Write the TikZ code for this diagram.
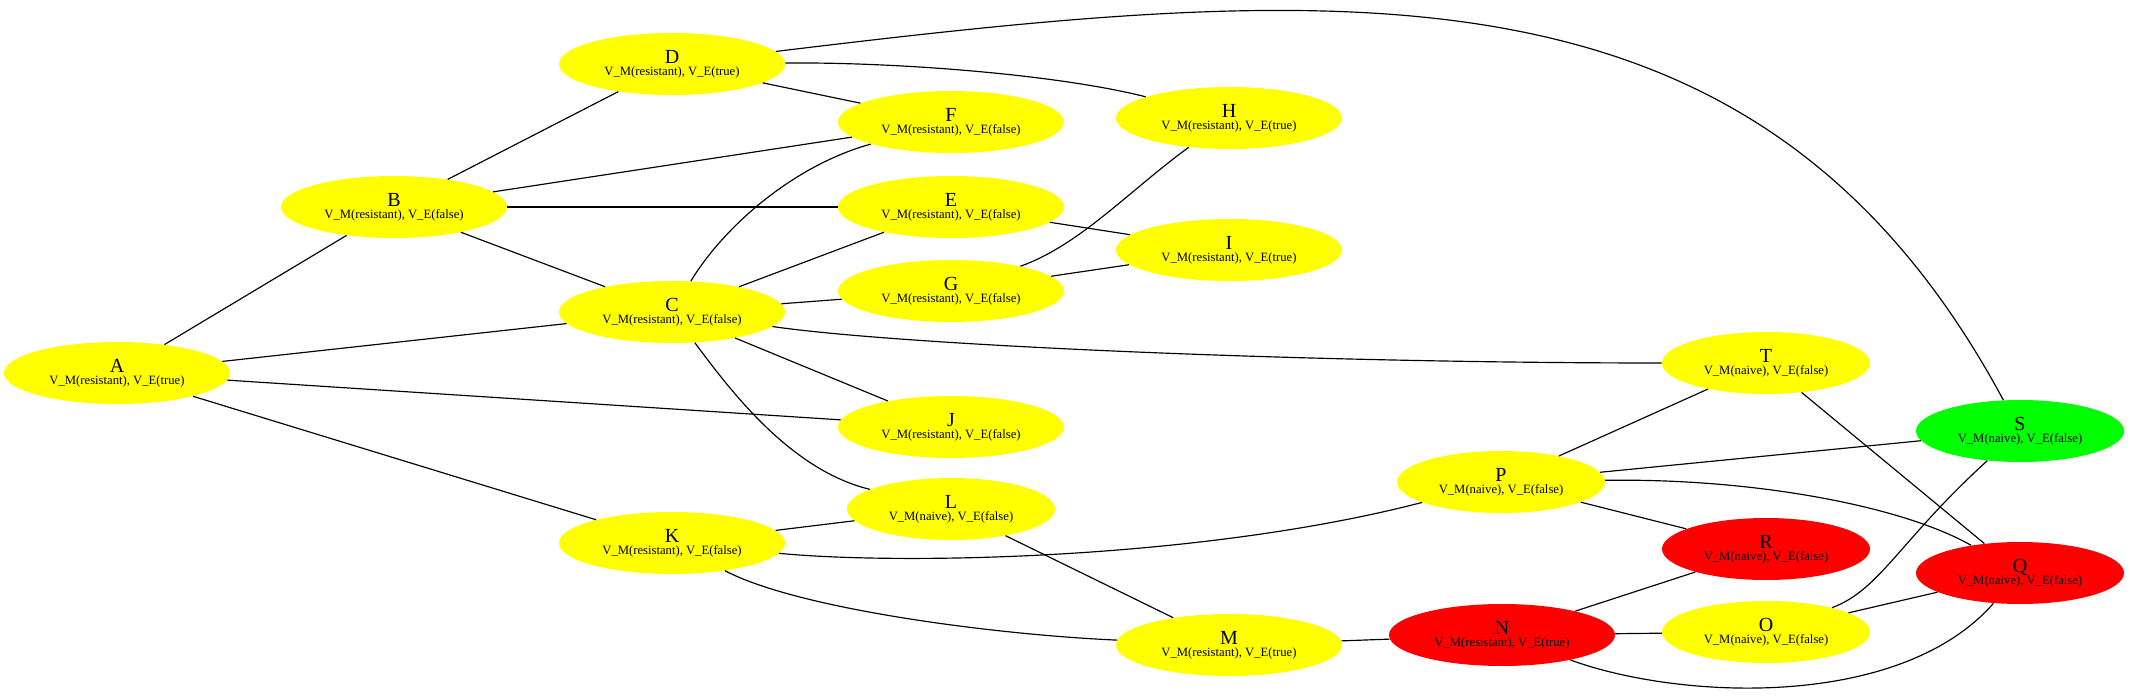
\documentclass[tikz,border=0pt]{standalone}
\usepackage{fontspec}
\setmainfont{Liberation Serif}
\usepackage{tikz}
\usetikzlibrary{shapes.geometric}
\definecolor{hostyellow}{RGB}{255,255,0}
\definecolor{hostred}{RGB}{255,0,0}
\definecolor{hostgreen}{RGB}{0,255,0}
\newcommand{\hostlabel}[3]{{\fontsize{12}{12}\selectfont #1}\\[-1.6pt]V\_M(#2), V\_E(#3)}
\tikzset{
  hostnode/.style={ellipse, fill=#1, draw=none, minimum width=135.6pt,
                   minimum height=37.2pt, inner sep=0pt, align=center,
                   font=\fontsize{7.6}{9}\selectfont},
  naivenode/.style={hostnode=#1, minimum width=124.8pt},
  link/.style={line width=0.7pt, black},
}

\begin{document}
\begin{tikzpicture}[x=0.6pt, y=-0.6pt]
  \useasboundingbox (0,0) rectangle (2130,697);

  % left part
  \node[hostnode=hostyellow] (A) at (117,373) {\hostlabel{A}{resistant}{true}};
  \node[hostnode=hostyellow] (B) at (394,207) {\hostlabel{B}{resistant}{false}};
  \node[hostnode=hostyellow] (C) at (672,312) {\hostlabel{C}{resistant}{false}};
  \node[hostnode=hostyellow] (D) at (672,64)  {\hostlabel{D}{resistant}{true}};
  \node[hostnode=hostyellow] (K) at (672,543) {\hostlabel{K}{resistant}{false}};
  \node[hostnode=hostyellow] (F) at (951,122) {\hostlabel{F}{resistant}{false}};
  \node[hostnode=hostyellow] (E) at (951,207) {\hostlabel{E}{resistant}{false}};
  \node[hostnode=hostyellow] (G) at (951,291) {\hostlabel{G}{resistant}{false}};
  \node[hostnode=hostyellow] (J) at (951,427) {\hostlabel{J}{resistant}{false}};
  \node[naivenode=hostyellow] (L) at (951,509) {\hostlabel{L}{naive}{false}};
  \node[hostnode=hostyellow] (H) at (1229,118) {\hostlabel{H}{resistant}{true}};
  \node[hostnode=hostyellow] (I) at (1229,250) {\hostlabel{I}{resistant}{true}};
  \node[hostnode=hostyellow] (M) at (1229,645) {\hostlabel{M}{resistant}{true}};

  % right part
  \node[hostnode=hostred]     (N) at (1502,635) {\hostlabel{N}{resistant}{true}};
  \node[naivenode=hostyellow] (P) at (1501,482) {\hostlabel{P}{naive}{false}};
  \node[naivenode=hostyellow] (T) at (1766,363) {\hostlabel{T}{naive}{false}};
  \node[naivenode=hostred]    (R) at (1766,549) {\hostlabel{R}{naive}{false}};
  \node[naivenode=hostyellow] (O) at (1766,632) {\hostlabel{O}{naive}{false}};
  \node[naivenode=hostgreen]  (S) at (2020,431) {\hostlabel{S}{naive}{false}};
  \node[naivenode=hostred]    (Q) at (2020,573) {\hostlabel{Q}{naive}{false}};

  % edges
  \draw[link] (A) -- (B);
  \draw[link] (A) -- (C);
  \draw[link] (A) -- (J);
  \draw[link] (A) -- (K);
  \draw[link] (B) -- (D);
  \draw[link] (B) -- (F);
  \draw[link] (B) -- (E);
  \draw[link] (B) -- (C);
  \draw[link] (D) -- (F);
  \draw[link] (D) .. controls (900,62) and (1060,75) .. (H);
  \draw[link] (D) .. controls (1350,-18) and (1760,-52) .. (S);
  \draw[link] (C) .. controls (725,225) and (795,165) .. (F);
  \draw[link] (C) -- (E);
  \draw[link] (C) -- (G);
  \draw[link] (C) .. controls (900,345) and (1300,363) .. (T);
  \draw[link] (C) -- (J);
  \draw[link] (C) .. controls (730,390) and (790,470) .. (L);
  \draw[link] (E) -- (I);
  \draw[link] (G) .. controls (1080,245) and (1130,190) .. (H);
  \draw[link] (G) -- (I);
  \draw[link] (K) -- (L);
  \draw[link] (K) .. controls (900,565) and (1200,560) .. (P);
  \draw[link] (K) .. controls (800,610) and (1000,635) .. (M);
  \draw[link] (L) -- (M);
  \draw[link] (M) -- (N);
  \draw[link] (N) -- (R);
  \draw[link] (N) -- (O);
  \draw[link] (N) .. controls (1680,700) and (1900,710) .. (Q);
  \draw[link] (P) -- (T);
  \draw[link] (P) -- (S);
  \draw[link] (P) -- (R);
  \draw[link] (P) .. controls (1750,478) and (1900,505) .. (Q);
  \draw[link] (T) -- (Q);
  \draw[link] (O) .. controls (1880,590) and (1900,540) .. (S);
  \draw[link] (O) -- (Q);
\end{tikzpicture}
\end{document}
